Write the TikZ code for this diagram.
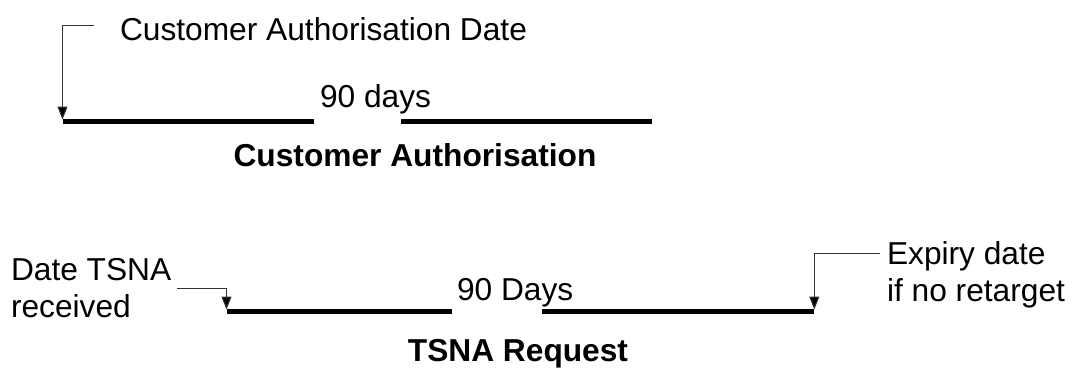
\documentclass[tikz,border=0pt]{standalone}
\usepackage{fontspec}
\setmainfont{Liberation Sans}
\usetikzlibrary{arrows.meta}
\tikzset{
  lbl/.style={inner sep=0pt, outer sep=0pt, font=\fontsize{31.7}{37}\selectfont},
  title/.style={lbl, font=\fontsize{31.7}{37}\selectfont\bfseries},
  bar/.style={line width=5.5pt, black},
  pointer/.style={line width=1pt, black!80, -{Triangle[length=13pt,width=10pt,fill=black]}}
}
\begin{document}
\begin{tikzpicture}[x=1pt,y=-1pt]
\useasboundingbox (0,0) rectangle (1075,367);
% top timeline
\node[lbl, anchor=base west] (cadate) at (120,40) {Customer Authorisation Date};
\node[lbl, anchor=base west] (ninety1) at (320,107) {90 days};
\node[title, anchor=base] (catitle) at (415,166.7) {Customer Authorisation};
\coordinate (ca1) at (62.5,121.7);
\coordinate (ca2) at (314,121.7);
\coordinate (ca3) at (401,121.7);
\coordinate (ca4) at (652,121.7);
\coordinate (cafrom) at (94,25.7);
\coordinate (catip) at (62.5,119.5);
\draw[bar] (ca1) -- (ca2);
\draw[bar] (ca3) -- (ca4);
\draw[pointer] (cafrom) -| (catip);
% bottom timeline
\node[lbl, anchor=base west, align=left] (tsnarec) at (11,317.3) {Date TSNA\\received};
\node[lbl, anchor=base west] (ninety2) at (457,300) {90 Days};
\node[lbl, anchor=base west, align=left] (expiry) at (887,301.7) {Expiry date\\if no retarget};
\node[title, anchor=base] (tsnatitle) at (518,361.7) {TSNA Request};
\coordinate (ts1) at (226.5,311.7);
\coordinate (ts2) at (451.7,311.7);
\coordinate (ts3) at (542.3,311.7);
\coordinate (ts4) at (814.3,311.7);
\coordinate (recfrom) at (177,288.3);
\coordinate (rectip) at (226.5,309.5);
\coordinate (expfrom) at (880,253.3);
\coordinate (exptip) at (814.3,309.5);
\draw[bar] (ts1) -- (ts2);
\draw[bar] (ts3) -- (ts4);
\draw[pointer] (recfrom) -| (rectip);
\draw[pointer] (expfrom) -| (exptip);
\end{tikzpicture}
\end{document}
